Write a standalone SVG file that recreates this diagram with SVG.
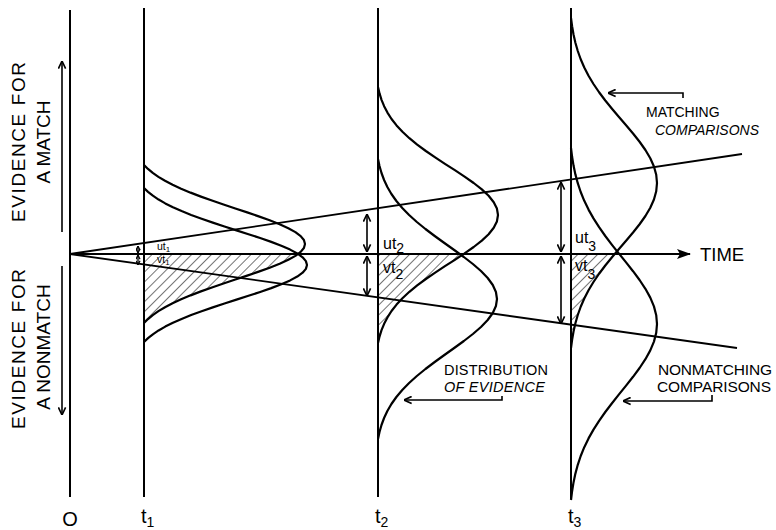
<svg xmlns="http://www.w3.org/2000/svg" xmlns:xlink="http://www.w3.org/1999/xlink" width="776" height="530" viewBox="0 0 776 530">
<style>
.ln{stroke:#000;stroke-width:2;fill:none}
.thin{stroke:#000;stroke-width:1.8;fill:none}
.bell{fill:none;stroke:#000;stroke-width:2.2;stroke-linejoin:round;vector-effect:non-scaling-stroke}
.t{font-family:"Liberation Sans",Arial,sans-serif;fill:#000}
.dbl{stroke:#000;stroke-width:1.6;fill:none;marker-start:url(#ah);marker-end:url(#ah)}
.dbls{stroke:#000;stroke-width:1.3;fill:none;marker-start:url(#ahs);marker-end:url(#ahs)}
.lbl{stroke:#000;stroke-width:1.6;fill:none;marker-end:url(#ah)}
</style>
<defs>
<path id="bell" class="bell" d="M0,-100 L1.27,-95 L2.94,-90 L5.11,-85 L7.87,-80 L11.28,-75 L15.45,-70 L20.39,-65 L26.14,-60 L32.66,-55 L39.87,-50 L47.65,-45 L55.78,-40 L64.04,-35 L72.14,-30 L79.74,-25 L86.53,-20 L92.19,-15 L96.45,-10 L99.1,-5 L100,0 L99.1,5 L96.45,10 L92.19,15 L86.53,20 L79.74,25 L72.14,30 L64.04,35 L55.78,40 L47.65,45 L39.87,50 L32.66,55 L26.14,60 L20.39,65 L15.45,70 L11.28,75 L7.87,80 L5.11,85 L2.94,90 L1.27,95 L0,100"/>
<path id="bellw" class="bell" d="M0,-100 L2.47,-95 L5.44,-90 L8.95,-85 L13.05,-80 L17.75,-75 L23.06,-70 L28.94,-65 L35.35,-60 L42.2,-55 L49.37,-50 L56.73,-45 L64.09,-40 L71.26,-35 L78.05,-30 L84.24,-25 L89.63,-20 L94.04,-15 L97.31,-10 L99.32,-5 L100,0 L99.32,5 L97.31,10 L94.04,15 L89.63,20 L84.24,25 L78.05,30 L71.26,35 L64.09,40 L56.73,45 L49.37,50 L42.2,55 L35.35,60 L28.94,65 L23.06,70 L17.75,75 L13.05,80 L8.95,85 L5.44,90 L2.47,95 L0,100"/>
<pattern id="hatch" patternUnits="userSpaceOnUse" width="7" height="7" patternTransform="rotate(45)">
<line x1="0" y1="0" x2="0" y2="7" stroke="#000" stroke-width="1.1"/>
</pattern>
<clipPath id="c1"><use xlink:href="#bellw" transform="translate(144,244) scale(1.61,0.79)"/></clipPath>
<clipPath id="c2"><use xlink:href="#bell" transform="translate(378,215) scale(1.2,1.28)"/></clipPath>
<clipPath id="c3"><use xlink:href="#bell" transform="translate(571,183) scale(0.86,1.65)"/></clipPath>
<marker id="ah" viewBox="0 0 10 10" refX="9.5" refY="5" markerWidth="9" markerHeight="9" markerUnits="userSpaceOnUse" orient="auto-start-reverse">
<path d="M1,1 L9.5,5 L1,9" fill="none" stroke="#000" stroke-width="1.8"/>
</marker>
<marker id="ahs" viewBox="0 0 10 10" refX="9.5" refY="5" markerWidth="5" markerHeight="5" markerUnits="userSpaceOnUse" orient="auto-start-reverse">
<path d="M1,1 L9.5,5 L1,9" fill="none" stroke="#000" stroke-width="2.5"/>
</marker>
<marker id="af" viewBox="0 0 14 10" refX="13" refY="5" markerWidth="14" markerHeight="10" markerUnits="userSpaceOnUse" orient="auto">
<path d="M0,0 L14,5 L0,10 L3,5 Z" fill="#000"/>
</marker>
</defs>
<rect width="776" height="530" fill="#fff"/>

<g id="hatching">
<rect x="144" y="254" width="170" height="95" fill="url(#hatch)" clip-path="url(#c1)"/>
<rect x="378" y="254" width="125" height="100" fill="url(#hatch)" clip-path="url(#c2)"/>
<rect x="571" y="254" width="90" height="100" fill="url(#hatch)" clip-path="url(#c3)"/>
</g>

<g id="time-lines">
<line class="ln" x1="70" y1="10" x2="70" y2="497"/>
<line class="ln" x1="144" y1="8" x2="144" y2="497"/>
<line class="ln" x1="378" y1="8" x2="378" y2="497"/>
<line class="ln" x1="571" y1="8" x2="571" y2="499"/>
</g>

<g id="connectors">
<path class="ln" d="M70,254 H690" marker-end="url(#af)"/>
<line class="thin" x1="70" y1="254" x2="742" y2="154"/>
<line class="thin" x1="70" y1="254" x2="737" y2="348"/>
<path class="lbl" d="M62,232 V61"/>
<path class="lbl" d="M62,266 V415"/>
<path class="dbls" d="M138,246 V253"/>
<path class="dbls" d="M138,255 V265"/>
<path class="dbl" d="M367,214 V252"/>
<path class="dbl" d="M367,256 V296"/>
<path class="dbl" d="M561,182 V252"/>
<path class="dbl" d="M561,256 V324"/>
<path class="lbl" d="M683,98 V93 H608"/>
<path class="lbl" d="M712,395 V401 H623"/>
<path class="lbl" d="M502,396 V400 H404"/>
</g>

<g id="dist-t1">
<use xlink:href="#bellw" transform="translate(144,244) scale(1.61,0.79)"/>
<use xlink:href="#bellw" transform="translate(144,265) scale(1.63,0.77)"/>
</g>
<g id="dist-t2">
<use xlink:href="#bell" transform="translate(378,215) scale(1.2,1.28)"/>
<use xlink:href="#bell" transform="translate(378,299) scale(1.19,1.4)"/>
</g>
<g id="dist-t3">
<use xlink:href="#bell" transform="translate(571,183) scale(0.86,1.65)"/>
<use xlink:href="#bell" transform="translate(571,324) scale(0.86,1.76)"/>
</g>

<g id="labels" class="t">
<text class="t" font-size="19" text-anchor="middle" textLength="160" transform="translate(25,142) rotate(-90)">EVIDENCE FOR</text>
<text class="t" font-size="19" text-anchor="middle" transform="translate(50,142) rotate(-90)">A MATCH</text>
<text class="t" font-size="19" text-anchor="middle" textLength="160" transform="translate(25,349) rotate(-90)">EVIDENCE FOR</text>
<text class="t" font-size="19" text-anchor="middle" transform="translate(50,347) rotate(-90)">A NONMATCH</text>

<text class="t" x="700" y="261" font-size="18.5">TIME</text>
<text class="t" x="646" y="117" font-size="14">MATCHING</text>
<text class="t" x="655" y="135" font-size="14" font-style="italic">COMPARISONS</text>
<text class="t" x="658" y="375" font-size="15.5" textLength="114">NONMATCHING</text>
<text class="t" x="657" y="392" font-size="15.5" textLength="114">COMPARISONS</text>
<text class="t" x="444" y="375" font-size="14.5" textLength="104">DISTRIBUTION</text>
<text class="t" x="444" y="392" font-size="14.5" font-style="italic" textLength="101">OF EVIDENCE</text>

<text class="t" x="157" y="250" font-size="10.5">ut<tspan font-size="8" dy="2">1</tspan></text>
<text class="t" x="157" y="263" font-size="10.5">vt<tspan font-size="8" dy="2">1</tspan></text>
<text class="t" x="383" y="249" font-size="16">ut<tspan font-size="14" dy="4">2</tspan></text>
<text class="t" x="383" y="273" font-size="16">vt<tspan font-size="14" dy="6">2</tspan></text>
<text class="t" x="575" y="243" font-size="16">ut<tspan font-size="14" dy="8">3</tspan></text>
<text class="t" x="575" y="271" font-size="16">vt<tspan font-size="14" dy="8">3</tspan></text>

<text class="t" x="70" y="526" font-size="20" text-anchor="middle">O</text>
<text class="t" x="141" y="523" font-size="20">t<tspan font-size="14" dy="4">1</tspan></text>
<text class="t" x="375" y="523" font-size="20">t<tspan font-size="14" dy="4">2</tspan></text>
<text class="t" x="568" y="523" font-size="20">t<tspan font-size="14" dy="4">3</tspan></text>
</g>
</svg>
